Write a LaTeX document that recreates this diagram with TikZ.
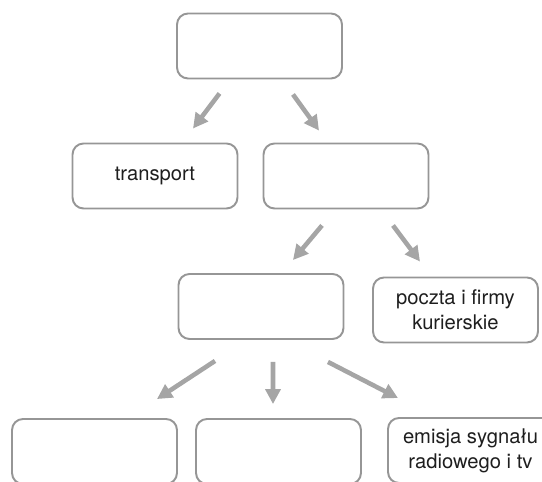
\documentclass[tikz,border=0pt]{standalone}
\usepackage{fontspec}
\setmainfont{TeX Gyre Heros}
\usetikzlibrary{arrows.meta,calc}

\definecolor{boxgray}{RGB}{150,150,150}
\definecolor{arrowgray}{RGB}{165,165,165}
\definecolor{textgray}{RGB}{30,30,30}

\tikzset{
  box/.style={draw=boxgray, line width=1.1pt, rounded corners=0.22cm,
    minimum width=3.3cm, minimum height=1.3cm, align=center,
    text=textgray, font=\fontsize{11.5}{14.2}\selectfont},
  arr/.style={draw=arrowgray, line width=2.6pt,
    -{Triangle[length=0.3cm,width=0.3cm]}}
}

\begin{document}
\begin{tikzpicture}[x=0.02cm,y=-0.02cm]
\useasboundingbox (0,0) rectangle (542,482);
\node[box] (top) at (259.5,46) {};
\node[box] (transport) at (155,176) {transport};
\node[box] (mid) at (346,176) {};
\node[box] (lower) at (261,306.5) {};
\node[box] (poczta) at (455.5,310) {poczta i firmy\\kurierskie};
\node[box] (b1) at (94.5,451.5) {};
\node[box] (b2) at (278.5,451.5) {};
\node[box] (emisja) at (470.5,450.5) {emisja sygnału\\radiowego i tv};
\draw[arr] ([xshift=-0.8cm,yshift=-0.28cm]top.south) -- ([xshift=0.76cm,yshift=0.28cm]transport.north);
\draw[arr] ([xshift=0.67cm,yshift=-0.3cm]top.south) -- ([xshift=-0.54cm,yshift=0.24cm]mid.north);
\draw[arr] ([xshift=-0.48cm,yshift=-0.32cm]mid.south) -- ([xshift=0.64cm,yshift=0.26cm]lower.north);
\draw[arr] ([xshift=0.94cm,yshift=-0.32cm]mid.south) -- ([xshift=-0.71cm,yshift=0.3cm]poczta.north);
\draw[arr] ([xshift=-0.92cm,yshift=-0.42cm]lower.south) -- ([xshift=1.25cm,yshift=0.38cm]b1.north);
\draw[arr] ([xshift=0.24cm,yshift=-0.44cm]lower.south) -- ([xshift=-0.11cm,yshift=0.28cm]b2.north);
\draw[arr] ([xshift=1.34cm,yshift=-0.44cm]lower.south) -- ([xshift=-1.45cm,yshift=0.38cm]emisja.north);
\end{tikzpicture}
\end{document}
